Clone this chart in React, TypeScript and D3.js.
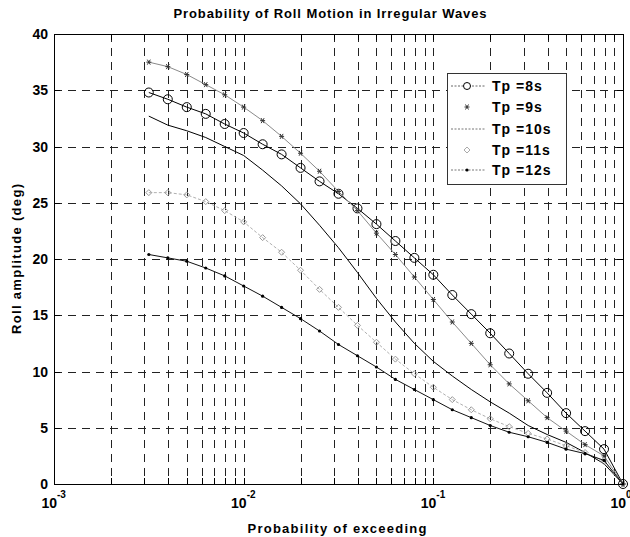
import React from "react";
import * as d3 from "d3";

const probabilities = [
  0.003162, 0.003981, 0.005012, 0.00631, 0.007943, 0.01, 0.01259, 0.01585, 0.01995,
  0.02512, 0.03162, 0.03981, 0.05012, 0.0631, 0.07943, 0.1, 0.1259, 0.1585, 0.1995,
  0.2512, 0.3162, 0.3981, 0.5012, 0.631, 0.7943, 1.0,
];
const tp8 = [34.8, 34.2, 33.5, 32.9, 32.0, 31.2, 30.2, 29.3, 28.1, 26.9, 25.8, 24.5, 23.1, 21.6, 20.1, 18.6, 16.8, 15.1, 13.4, 11.6, 9.8, 8.1, 6.3, 4.7, 3.1, 0];
const tp9 = [37.5, 37.1, 36.4, 35.5, 34.6, 33.5, 32.3, 30.9, 29.4, 27.8, 26.0, 24.3, 22.3, 20.4, 18.4, 16.4, 14.4, 12.5, 10.6, 8.9, 7.4, 5.9, 4.7, 3.5, 2.5, 0];
const tp10 = [32.7, 31.9, 31.4, 30.8, 30.0, 29.2, 27.9, 26.5, 24.9, 23.0, 21.0, 18.8, 16.5, 14.4, 12.5, 10.9, 9.6, 8.4, 7.3, 6.3, 5.2, 4.4, 3.7, 2.8, 1.8, 0];
const tp11 = [25.9, 25.9, 25.7, 25.1, 24.3, 23.3, 21.9, 20.6, 19.0, 17.3, 15.7, 14.1, 12.6, 11.1, 9.8, 8.6, 7.5, 6.6, 5.8, 5.1, 4.5, 4.0, 3.4, 2.8, 2.0, 0];
const tp12 = [20.4, 20.1, 19.8, 19.2, 18.5, 17.6, 16.7, 15.7, 14.7, 13.6, 12.4, 11.4, 10.4, 9.3, 8.4, 7.5, 6.6, 5.9, 5.2, 4.6, 4.2, 3.7, 3.1, 2.7, 2.1, 0];

const seriesNames = ["Tp =8s", "Tp =9s", "Tp =10s", "Tp =11s", "Tp =12s"];
const yTicks = [0, 5, 10, 15, 20, 25, 30, 35, 40];
const xDecades = [1e-3, 1e-2, 1e-1, 1];
const xExponents = ["-3", "-2", "-1", "0"];

const W = 630;
const H = 537;
const L = 54, R = 623, T = 34, B = 484;
const FONT = "'Liberation Sans', Arial, Helvetica, sans-serif";

type Marker = "circle" | "star" | "none" | "diamond" | "dot";
const styles: { stroke: string; width: number; dash?: string; marker: Marker; mstroke: string }[] = [
  { stroke: "#000", width: 1, marker: "circle", mstroke: "#000" },
  { stroke: "#8a8a8a", width: 1, marker: "star", mstroke: "#333" },
  { stroke: "#000", width: 1, marker: "none", mstroke: "#000" },
  { stroke: "#b0b0b0", width: 1, dash: "3,2", marker: "diamond", mstroke: "#999" },
  { stroke: "#111", width: 1, marker: "dot", mstroke: "#000" },
];

function drawMarker(kind: Marker, cx: number, cy: number, color: string, key: string) {
  if (kind === "circle")
    return <circle key={key} cx={cx} cy={cy} r={4.5} fill="none" stroke={color} strokeWidth={1} />;
  if (kind === "star") {
    const s = 2.5;
    return (
      <g key={key} stroke={color} strokeWidth={1}>
        <line x1={cx - s} y1={cy} x2={cx + s} y2={cy} />
        <line x1={cx - s * 0.6} y1={cy - s} x2={cx + s * 0.6} y2={cy + s} />
        <line x1={cx + s * 0.6} y1={cy - s} x2={cx - s * 0.6} y2={cy + s} />
      </g>
    );
  }
  if (kind === "diamond") {
    const s = 3;
    return (
      <path key={key} d={`M${cx},${cy - s}L${cx + s},${cy}L${cx},${cy + s}L${cx - s},${cy}Z`} fill="none" stroke={color} strokeWidth={1} />
    );
  }
  if (kind === "dot") return <circle key={key} cx={cx} cy={cy} r={1.6} fill={color} />;
  return null;
}

export default function App() {
  const x = d3.scaleLog().domain([1e-3, 1]).range([L, R]);
  const y = d3.scaleLinear().domain([0, 40]).range([B, T]);
  const all = [tp8, tp9, tp10, tp11, tp12];
  const line = d3
    .line<[number, number]>()
    .x((d) => x(d[0]))
    .y((d) => y(d[1]));

  const minorX: number[] = [];
  for (let i = 0; i < xDecades.length - 1; i++) {
    for (let k = 2; k <= 9; k++) minorX.push(xDecades[i] * k);
  }
  const gridX = [...minorX, 1e-2, 1e-1];
  const gridY = yTicks.filter((v) => v > 0 && v < 40);

  const legendX = 447, legendY = 73, legendW = 119, legendH = 111;
  const legendRows = [86, 107, 129, 150, 170];

  return (
    <svg width={W} height={H} style={{ position: "absolute", left: 0, top: 0, background: "#fff" }} fontFamily={FONT}>
      <rect x={0} y={0} width={W} height={H} fill="#fff" />
      <g stroke="#222" strokeWidth={1} strokeDasharray="8,6">
        {gridX.map((v, i) => (
          <line key={"gx" + i} x1={Math.round(x(v)) + 0.5} x2={Math.round(x(v)) + 0.5} y1={T} y2={B} />
        ))}
        {gridY.map((v, i) => (
          <line key={"gy" + i} x1={L} x2={R} y1={Math.round(y(v)) + 0.5} y2={Math.round(y(v)) + 0.5} />
        ))}
      </g>
      <g stroke="#000" strokeWidth={1}>
        {gridX.map((v, i) => (
          <g key={"tx" + i}>
            <line x1={Math.round(x(v)) + 0.5} x2={Math.round(x(v)) + 0.5} y1={B} y2={B - 6} />
            <line x1={Math.round(x(v)) + 0.5} x2={Math.round(x(v)) + 0.5} y1={T} y2={T + 6} />
          </g>
        ))}
        {gridY.map((v, i) => (
          <g key={"ty" + i}>
            <line x1={L} x2={L + 6} y1={Math.round(y(v)) + 0.5} y2={Math.round(y(v)) + 0.5} />
            <line x1={R} x2={R - 6} y1={Math.round(y(v)) + 0.5} y2={Math.round(y(v)) + 0.5} />
          </g>
        ))}
      </g>
      {all.map((vals, si) => {
        const st = styles[si];
        const pts = probabilities.map((p, i) => [p, vals[i]] as [number, number]);
        return (
          <g key={"s" + si}>
            <path d={line(pts) || ""} fill="none" stroke={st.stroke} strokeWidth={st.width} strokeDasharray={st.dash} />
            {pts.map((d, i) => drawMarker(st.marker, x(d[0]), y(d[1]), st.mstroke, "m" + si + "-" + i))}
          </g>
        );
      })}
      <rect x={L + 0.5} y={T + 0.5} width={R - L} height={B - T} fill="none" stroke="#000" strokeWidth={1} />
      {yTicks.map((v) => (
        <text key={"yl" + v} x={48} y={y(v)} dy="0.36em" textAnchor="end" fontSize={14} fontWeight="bold" fill="#000">
          {v}
        </text>
      ))}
      {xDecades.map((v, i) => (
        <g key={"xl" + i}>
          <text x={x(v) + 3} y={508} textAnchor="end" fontSize={14} fontWeight="bold" fill="#000">
            10
          </text>
          <text x={x(v) + 3} y={498} textAnchor="start" fontSize={10} fontWeight="bold" fill="#000">
            {xExponents[i]}
          </text>
        </g>
      ))}
      <text x={330} y={18} textAnchor="middle" fontSize={13} fontWeight="bold" textLength={313} lengthAdjust="spacing" fill="#000">
        Probability of Roll Motion in Irregular Waves
      </text>
      <text x={337} y={533} textAnchor="middle" fontSize={13} fontWeight="bold" textLength={179} lengthAdjust="spacing" fill="#000">
        Probability of exceeding
      </text>
      <text transform={`translate(21,${(T + B) / 2}) rotate(-90)`} textAnchor="middle" fontSize={13} fontWeight="bold" textLength={150} lengthAdjust="spacing" fill="#000">
        Roll amplitude (deg)
      </text>
      <rect x={legendX + 0.5} y={legendY + 0.5} width={legendW} height={legendH} fill="#fff" stroke="#333" strokeWidth={1} />
      {seriesNames.map((name, i) => {
        const yy = legendRows[i];
        const x1 = 451, x2 = 485, cx = 467;
        let sample: React.ReactNode = null;
        if (i === 0)
          sample = (
            <g>
              <line x1={x1} x2={x2} y1={yy} y2={yy} stroke="#666" strokeDasharray="2,1.5" />
              <circle cx={cx} cy={yy} r={3.5} fill="#fff" stroke="#000" />
            </g>
          );
        else if (i === 1) sample = drawMarker("star", cx, yy, "#333", "ls1");
        else if (i === 2) sample = <line x1={x1} x2={x2} y1={yy} y2={yy} stroke="#777" strokeDasharray="2,1.5" />;
        else if (i === 3) sample = drawMarker("diamond", cx, yy, "#aaa", "ls3");
        else
          sample = (
            <g>
              <line x1={x1} x2={x2} y1={yy} y2={yy} stroke="#777" strokeDasharray="2,1.5" />
              <circle cx={cx} cy={yy} r={1.6} fill="#000" />
            </g>
          );
        return (
          <g key={"lg" + i}>
            {sample}
            <text x={492} y={yy} dy="0.36em" fontSize={14} fontWeight="bold" letterSpacing={1} fill="#000">
              {name}
            </text>
          </g>
        );
      })}
    </svg>
  );
}
